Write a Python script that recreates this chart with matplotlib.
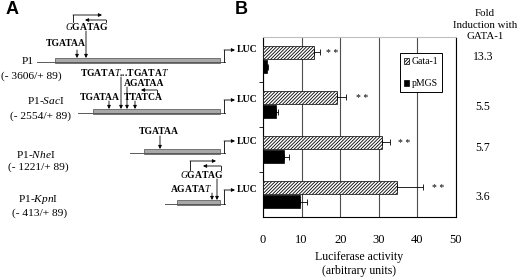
import numpy as np
import matplotlib
matplotlib.use("Agg")
import matplotlib.pyplot as plt
from matplotlib.patches import Rectangle

plt.rcParams['font.family'] = ['Liberation Serif', 'DejaVu Serif']
plt.rcParams['mathtext.fontset'] = 'custom'
plt.rcParams['mathtext.rm'] = 'Liberation Serif'
plt.rcParams['mathtext.it'] = 'Liberation Serif:italic'
plt.rcParams['mathtext.bf'] = 'Liberation Serif:bold'
plt.rcParams['hatch.linewidth'] = 0.6

# data
constructs = ["P1", r"P1-$\it{Sac}$I", r"P1-$\it{Nhe}$I", r"P1-$\it{Kpn}$I"]
ranges = ["(- 3606/+ 89)", "(- 2554/+ 89)", "(- 1221/+ 89)", "(- 413/+ 89)"]
gata1 = [13.2, 19.2, 30.7, 34.6]
gata1_err = [1.5, 2.3, 2.2, 6.8]
pmgs = [1.0, 3.4, 5.5, 9.6]
pmgs_err = [0.3, 0.5, 1.3, 1.8]
star_x = [16.2, 24.2, 35.0, 43.8]
fold = ["13.3", "5.5", "5.7", "3.6"]
xticks = [0, 10, 20, 30, 40, 50]

# schematic layout (pixels)
base_y = [62, 113, 153, 204]
line_x0 = [37, 78, 130, 165]
bar_x0 = [55, 93, 144, 177]
bar_x1 = 220
luc_y = [50, 100, 141, 190]
name_xy = [(28, 62), (46, 101), (36, 155), (38, 200)]
range_xy = [(31, 76), (41, 116), (38, 167), (40, 213)]

fig = plt.figure(figsize=(5.2, 2.78), dpi=100)
ax0 = fig.add_axes([0, 0, 1, 1])
ax0.set_xlim(0, 520)
ax0.set_ylim(278, 0)
ax0.axis('off')

ax0.text(12, 10, "A", fontsize=13, fontweight='bold', family='Liberation Sans', ha='center', va='center')
ax0.text(241, 10, "B", fontsize=13, fontweight='bold', family='Liberation Sans', ha='center', va='center')

def down(x, y0, y1):
    ax0.annotate('', xy=(x, y1), xytext=(x, y0),
                 arrowprops=dict(arrowstyle='-|>', lw=0.6, color='k', mutation_scale=5,
                                 shrinkA=0, shrinkB=0))

def side(x0, x1, y):
    ax0.annotate('', xy=(x1, y), xytext=(x0, y),
                 arrowprops=dict(arrowstyle='-|>', lw=0.6, color='k', mutation_scale=5,
                                 shrinkA=0, shrinkB=0))

seq = dict(fontsize=6.9, fontweight='bold', ha='center', va='center')

for i in range(4):
    b = base_y[i]
    ax0.plot([line_x0[i], 225], [b, b], color='0.35', lw=0.7)
    ax0.add_patch(Rectangle((bar_x0[i], b - 4), bar_x1 - bar_x0[i], 5,
                            facecolor='#a8a8a8', edgecolor='0.3', lw=0.5))
    ax0.plot([224, 224], [b, luc_y[i]], color='k', lw=0.6)
    side(224, 235, luc_y[i])
    ax0.text(237, luc_y[i], "LUC", fontsize=6.9, fontweight='bold', ha='left', va='center')
    ax0.text(*name_xy[i], constructs[i], fontsize=8.2, ha='center', va='center')
    ax0.text(*range_xy[i], ranges[i], fontsize=8.2, ha='center', va='center')

# row 1 motifs
ax0.text(66, 44, "TGATAA", **seq)
ax0.text(87, 27, r"$\it{G}$GATAG", **seq)
down(77, 50, 58)
down(86, 31, 58)
ax0.plot([73, 73], [22, 15], color='k', lw=0.6)
side(73, 102, 15)
ax0.plot([106, 106], [22, 20], color='k', lw=0.6)
side(106, 85, 20)

# row 2 motifs
ax0.text(124, 73, r"TGATA$\it{T}$...TGATA$\it{T}$", **seq)
ax0.text(144, 83, "AGATAA", **seq)
ax0.text(100, 97, "TGATAA", **seq)
ax0.text(143, 97, "TTATCA", **seq)
down(109, 101, 109)
down(121, 77, 109)
down(127, 87, 109)
down(135, 101, 109)
ax0.plot([157, 157], [94, 90], color='k', lw=0.6)
side(157, 141, 90)

# row 3 motifs
ax0.text(159, 131, "TGATAA", **seq)
down(160, 136, 149)

# row 4 motifs
ax0.text(202, 174, r"$\it{G}$GATAG", **seq)
ax0.text(191, 189, r"AGATA$\it{T}$", **seq)
down(212, 193, 200)
down(217, 179, 200)
ax0.plot([190, 190], [170, 161], color='k', lw=0.6)
side(190, 216, 161)
ax0.plot([221, 221], [170, 166], color='k', lw=0.6)
side(221, 203, 166)

# fold induction column
ax0.text(485, 25, "Fold\nInduction with\nGATA-1", fontsize=7.8, ha='center', va='center',
         linespacing=1.4)

# x label
ax0.text(359, 257, "Luciferase activity", fontsize=8.5, ha='center', va='center')
ax0.text(359, 271, "(arbitrary units)", fontsize=8.5, ha='center', va='center')

# bar chart
W, H = 520, 278
ax = fig.add_axes([263 / W, 1 - 217 / H, 193 / W, 180 / H])
y = np.arange(4)
h = 0.28
ax.barh(y - 0.16, gata1, height=h, xerr=[np.zeros(4), gata1_err], color='white',
        edgecolor='k', hatch='//////////', lw=0.5, label='Gata-1',
        error_kw=dict(elinewidth=0.6, capsize=2, capthick=0.6, ecolor='k'), zorder=3)
ax.barh(y + 0.16, pmgs, height=h, xerr=[np.zeros(4), pmgs_err], color='black',
        edgecolor='k', lw=0.5, label='pMGS',
        error_kw=dict(elinewidth=0.6, capsize=2, capthick=0.6, ecolor='k'), zorder=3)

for i in range(4):
    ax.text(star_x[i], y[i] - 0.13, "* *", fontsize=7, ha='left', va='center')
    ax0.text(483, luc_y[i] + 7, fold[i], fontsize=8.5, ha='center', va='center')

ax.set_xlim(0, 50)
ax.set_ylim(3.5, -0.5)
ax.set_xticks(xticks)
ax.set_xticklabels([str(t) for t in xticks], fontsize=9)
ax.tick_params(axis='x', length=0, pad=12)
ax.set_yticks([0.5, 1.5, 2.5])
ax.set_yticklabels([])
ax.tick_params(axis='y', length=3, width=0.6, direction='out')
ax.grid(axis='x', color='0.3', lw=0.8, zorder=0)
ax.set_axisbelow(True)
for s in ['left', 'bottom', 'right']:
    ax.spines[s].set_color('k')
    ax.spines[s].set_linewidth(0.8)
ax.spines['top'].set_color('0.75')
ax.spines['top'].set_linewidth(0.8)

leg = ax.legend(loc='upper left', bbox_to_anchor=(0.71, 0.91), fontsize=7, frameon=True,
                fancybox=False, edgecolor='k', handlelength=0.55, handleheight=0.6,
                handletextpad=0.25, labelspacing=1.35, borderpad=0.4, borderaxespad=0)
leg.get_frame().set_linewidth(0.7)
leg.get_frame().set_alpha(1)

fig.savefig("out.png", dpi=100)
